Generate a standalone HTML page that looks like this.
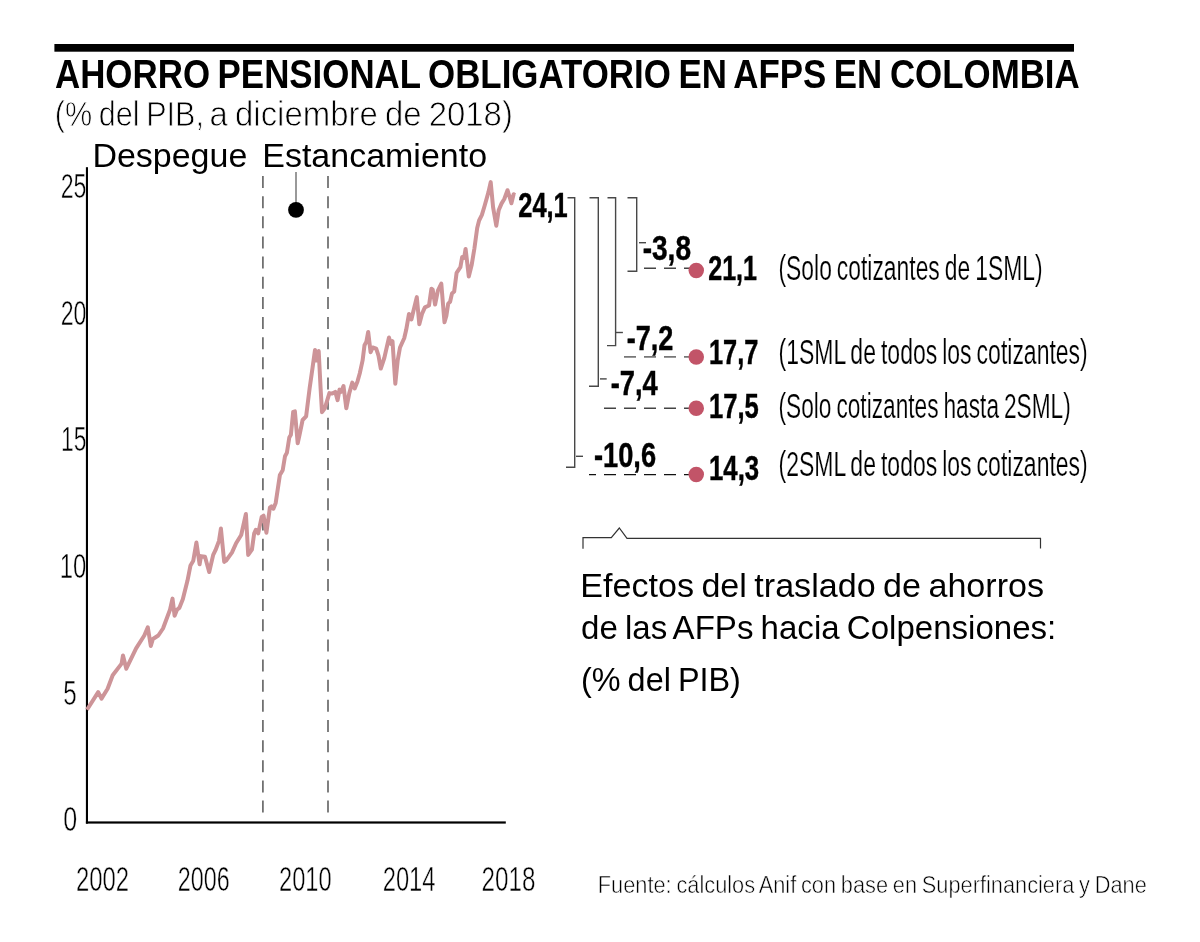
<!DOCTYPE html>
<html><head><meta charset="utf-8"><title>Ahorro pensional obligatorio en AFPs en Colombia</title>
<style>
html,body{margin:0;padding:0;background:#fff;}
svg{display:block;will-change:transform;}
text{font-family:"Liberation Sans",sans-serif;}
</style></head><body>
<svg width="1200" height="942" viewBox="0 0 1200 942">
<rect width="1200" height="942" fill="#fff"/>
<!-- header -->
<rect x="54.4" y="44" width="1019.6" height="7.7" fill="#000"/>
<!-- axes -->
<rect x="85.9" y="167.2" width="2.1" height="656.4" fill="#000"/>
<rect x="85.9" y="821.4" width="419.9" height="2.2" fill="#000"/>
<line x1="262.9" y1="176" x2="262.9" y2="812.5" stroke="#6a6a6a" stroke-width="1.7" stroke-dasharray="12 8.148"/>
<line x1="328" y1="176" x2="328" y2="812.5" stroke="#6a6a6a" stroke-width="1.7" stroke-dasharray="12 8.148"/>
<line x1="296" y1="172" x2="296" y2="205" stroke="#555" stroke-width="1.2"/>
<circle cx="296" cy="209.9" r="7.9" fill="#000"/>
<!-- series -->
<polyline points="87.0,709.8 98.2,692.1 101.5,698.6 107.6,688.8 112.7,675.2 121.6,663.6 123.0,655.4 126.3,668.7 136.1,648.4 144.3,635.5 147.8,627.3 150.8,646.0 152.9,639.0 158.3,635.5 163.0,628.5 170.0,609.8 172.5,598.6 174.6,615.7 177.0,609.8 179.3,607.9 182.8,599.3 187.5,580.6 190.5,565.4 193.3,560.7 196.4,542.5 199.6,564.3 201.0,556.1 205.0,556.8 209.2,572.0 213.2,554.9 215.5,550.2 219.0,540.9 220.9,528.5 224.2,561.9 226.0,560.7 231.9,552.6 236.1,543.2 241.2,535.0 245.9,514.0 248.2,554.9 251.9,549.6 254.2,533.3 255.8,529.8 258.2,533.3 261.7,516.9 263.6,515.7 266.4,532.8 269.9,507.6 271.5,506.4 273.4,508.7 275.7,502.9 279.9,474.9 282.7,470.2 285.0,456.2 286.9,452.7 289.3,437.5 290.9,434.7 293.2,411.8 294.9,411.3 297.7,443.3 299.5,435.1 302.6,420.0 306.1,416.4 309.6,388.4 312.6,367.4 315.0,349.9 316.6,360.4 318.7,351.0 320.6,388.4 322.0,412.2 324.8,408.3 329.4,393.1 332.2,393.6 335.3,391.9 337.6,400.1 339.5,389.6 341.1,391.9 343.5,386.1 346.3,408.3 349.3,393.1 352.3,382.6 354.7,388.4 357.5,381.4 359.8,373.2 362.6,360.4 364.5,345.2 366.4,341.7 368.2,331.9 370.6,352.2 372.7,347.5 376.2,348.7 378.5,355.7 380.8,368.6 384.3,358.0 386.7,347.5 389.0,337.5 390.9,344.0 392.5,341.2 395.3,383.7 397.7,360.4 400.0,347.5 404.2,338.2 406.2,329.8 409.0,313.9 411.4,319.5 413.6,310.2 416.8,297.1 419.3,324.2 422.0,313.9 424.9,307.4 429.0,305.5 431.4,288.7 432.7,289.6 435.1,304.6 437.9,290.6 441.3,283.6 444.5,322.3 446.4,315.8 448.2,303.6 450.1,301.8 452.0,293.4 454.2,291.5 456.6,272.8 460.4,267.2 462.2,256.9 464.1,257.9 465.6,248.9 468.8,276.5 471.6,265.3 474.4,248.5 477.2,227.9 479.1,220.5 481.9,214.9 484.7,205.5 488.4,192.4 490.7,182.1 493.1,207.4 496.3,225.7 498.7,210.2 501.5,203.6 504.3,199.0 507.5,190.2 509.9,198.0 511.4,203.3 513.6,194.3 515.0,195.2" fill="none" stroke="#cd9498" stroke-width="4" stroke-linejoin="round" stroke-linecap="butt"/>
<!-- brackets -->
<path d="M567.5 197.8 H574.7 V467.3 H566" fill="none" stroke="#484848" stroke-width="1.4"/>
<path d="M576 456.3 H583" fill="none" stroke="#484848" stroke-width="1.4"/>
<path d="M589.5 197.8 H598.3 V386.3 H589" fill="none" stroke="#484848" stroke-width="1.4"/>
<path d="M600 378.9 H606.7" fill="none" stroke="#484848" stroke-width="1.4"/>
<path d="M607.5 197.8 H615.6 V345.6 H607" fill="none" stroke="#484848" stroke-width="1.4"/>
<path d="M615.8 332.5 H622.9" fill="none" stroke="#484848" stroke-width="1.4"/>
<path d="M627.5 197.8 H636.7 V271.3 H627.5" fill="none" stroke="#484848" stroke-width="1.4"/>
<path d="M639 242.7 H646" fill="none" stroke="#484848" stroke-width="1.4"/>
<line x1="644" y1="268.3" x2="690" y2="268.3" stroke="#444" stroke-width="1.4" stroke-dasharray="12 8"/>
<line x1="624" y1="356.9" x2="690" y2="356.9" stroke="#777" stroke-width="1.9" stroke-dasharray="12 8"/>
<line x1="604" y1="408.3" x2="690" y2="408.3" stroke="#444" stroke-width="1.4" stroke-dasharray="12 8"/>
<line x1="589" y1="474.6" x2="690" y2="474.6" stroke="#111" stroke-width="1.4" stroke-dasharray="12 8" stroke-dashoffset="5"/>
<circle cx="696.25" cy="270.5" r="7.75" fill="#c25468"/>
<circle cx="696.25" cy="357" r="7.75" fill="#c25468"/>
<circle cx="696.25" cy="408.3" r="7.75" fill="#c25468"/>
<circle cx="696.25" cy="474.6" r="7.75" fill="#c25468"/>
<path d="M583 548.8 V537.7 H611.3 L619.3 528 L627 538.3 H1040.5 V548.5" fill="none" stroke="#333" stroke-width="1.2"/>
<!-- text -->
<text x="55.0" y="88.0" font-size="40.3" font-weight="bold" word-spacing="-2.42" textLength="1024.75" lengthAdjust="spacingAndGlyphs">AHORRO PENSIONAL OBLIGATORIO EN AFPS EN COLOMBIA</text>
<text x="54.75" y="125.75" font-size="34.5" word-spacing="-2.07" textLength="149.2" lengthAdjust="spacingAndGlyphs" stroke="#fff" stroke-width="0.8">(% del PIB,</text>
<text x="209.55" y="125.75" font-size="34.5" word-spacing="-2.07" textLength="303.31" lengthAdjust="spacingAndGlyphs" stroke="#fff" stroke-width="0.8">a diciembre de 2018)</text>
<text x="92.45" y="166.5" font-size="33.3" textLength="154.87" lengthAdjust="spacingAndGlyphs">Despegue</text>
<text x="262.25" y="166.5" font-size="33.3" textLength="224.83" lengthAdjust="spacingAndGlyphs">Estancamiento</text>
<text x="60.65" y="198.0" font-size="35.0" textLength="25.74" lengthAdjust="spacingAndGlyphs" stroke="#fff" stroke-width="0.5">25</text>
<text x="60.65" y="324.6" font-size="35.0" textLength="25.74" lengthAdjust="spacingAndGlyphs" stroke="#fff" stroke-width="0.5">20</text>
<text x="61.0" y="451.2" font-size="35.0" textLength="25.39" lengthAdjust="spacingAndGlyphs" stroke="#fff" stroke-width="0.5">15</text>
<text x="59.7" y="577.8" font-size="35.0" textLength="26.61" lengthAdjust="spacingAndGlyphs" stroke="#fff" stroke-width="0.5">10</text>
<text x="63.35" y="704.6" font-size="35.0" textLength="13.44" lengthAdjust="spacingAndGlyphs" stroke="#fff" stroke-width="0.5">5</text>
<text x="63.35" y="830.8" font-size="35.0" textLength="13.93" lengthAdjust="spacingAndGlyphs" stroke="#fff" stroke-width="0.5">0</text>
<text x="76.0" y="891.0" font-size="34.7" textLength="53.16" lengthAdjust="spacingAndGlyphs" stroke="#fff" stroke-width="0.5">2002</text>
<text x="177.75" y="891.0" font-size="34.7" textLength="51.87" lengthAdjust="spacingAndGlyphs" stroke="#fff" stroke-width="0.5">2006</text>
<text x="279.0" y="891.0" font-size="34.7" textLength="52.62" lengthAdjust="spacingAndGlyphs" stroke="#fff" stroke-width="0.5">2010</text>
<text x="382.7" y="891.0" font-size="34.7" textLength="52.84" lengthAdjust="spacingAndGlyphs" stroke="#fff" stroke-width="0.5">2014</text>
<text x="481.5" y="891.0" font-size="34.7" textLength="53.88" lengthAdjust="spacingAndGlyphs" stroke="#fff" stroke-width="0.5">2018</text>
<text x="518.25" y="216.8" font-size="34.5" font-weight="bold" textLength="49.53" lengthAdjust="spacingAndGlyphs" stroke="#000" stroke-width="0.45">24,1</text>
<text x="642.7" y="260.0" font-size="34.5" font-weight="bold" textLength="48.31" lengthAdjust="spacingAndGlyphs" stroke="#000" stroke-width="0.45">-3,8</text>
<text x="626.7" y="349.9" font-size="34.5" font-weight="bold" textLength="46.57" lengthAdjust="spacingAndGlyphs" stroke="#000" stroke-width="0.45">-7,2</text>
<text x="610.7" y="394.8" font-size="34.5" font-weight="bold" textLength="47.02" lengthAdjust="spacingAndGlyphs" stroke="#000" stroke-width="0.45">-7,4</text>
<text x="594.0" y="467.2" font-size="34.5" font-weight="bold" textLength="62.05" lengthAdjust="spacingAndGlyphs" stroke="#000" stroke-width="0.45">-10,6</text>
<text x="708.25" y="280.0" font-size="34.5" font-weight="bold" textLength="48.78" lengthAdjust="spacingAndGlyphs" stroke="#000" stroke-width="0.45">21,1</text>
<text x="709.0" y="363.5" font-size="34.5" font-weight="bold" textLength="49.37" lengthAdjust="spacingAndGlyphs" stroke="#000" stroke-width="0.45">17,7</text>
<text x="709.0" y="418.3" font-size="34.5" font-weight="bold" textLength="49.84" lengthAdjust="spacingAndGlyphs" stroke="#000" stroke-width="0.45">17,5</text>
<text x="709.0" y="479.6" font-size="34.5" font-weight="bold" textLength="50.11" lengthAdjust="spacingAndGlyphs" stroke="#000" stroke-width="0.45">14,3</text>
<text x="778.5" y="280.0" font-size="35.3" word-spacing="-2.12" textLength="264.03" lengthAdjust="spacingAndGlyphs" stroke="#fff" stroke-width="0.2">(Solo cotizantes de 1SML)</text>
<text x="778.5" y="363.5" font-size="35.3" word-spacing="-2.12" textLength="309.28" lengthAdjust="spacingAndGlyphs" stroke="#fff" stroke-width="0.2">(1SML de todos los cotizantes)</text>
<text x="778.5" y="418.3" font-size="35.3" word-spacing="-2.12" textLength="292.28" lengthAdjust="spacingAndGlyphs" stroke="#fff" stroke-width="0.2">(Solo cotizantes hasta 2SML)</text>
<text x="778.5" y="475.8" font-size="35.3" word-spacing="-2.12" textLength="309.28" lengthAdjust="spacingAndGlyphs" stroke="#fff" stroke-width="0.2">(2SML de todos los cotizantes)</text>
<text x="580.25" y="596.5" font-size="33.5" word-spacing="-2.01" textLength="463.79" lengthAdjust="spacingAndGlyphs">Efectos del traslado de ahorros</text>
<text x="581.0" y="639.3" font-size="33.5" word-spacing="-2.01" textLength="475.29" lengthAdjust="spacingAndGlyphs">de las AFPs hacia Colpensiones:</text>
<text x="581.0" y="691.2" font-size="33.5" word-spacing="-2.01" textLength="159.86" lengthAdjust="spacingAndGlyphs">(% del PIB)</text>
<text x="597.8" y="892.5" font-size="23.5" word-spacing="-1.41" textLength="549.02" lengthAdjust="spacingAndGlyphs" stroke="#fff" stroke-width="0.55">Fuente: cálculos Anif con base en Superfinanciera y Dane</text>
</svg></body></html>
